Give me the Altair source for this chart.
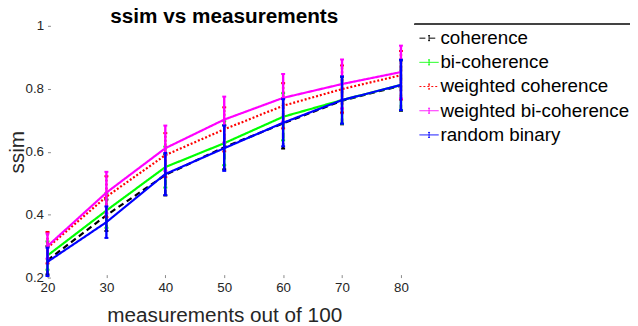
import altair as alt
import pandas as pd

measurements = [20, 30, 40, 50, 60, 70, 80]
series_names = ["coherence", "bi-coherence", "weighted coherence",
                "weighted bi-coherence", "random binary"]
series_colors = ["#000000", "#00ff00", "#ff0000", "#ff00ff", "#0000ff"]
series_dash = [[6, 4], [1, 0], [2, 2], [1, 0], [1, 0]]

coherence = [0.255, 0.398, 0.526, 0.614, 0.690, 0.762, 0.810]
bi_coherence = [0.270, 0.413, 0.551, 0.627, 0.711, 0.764, 0.812]
weighted_coherence = [0.295, 0.457, 0.589, 0.671, 0.746, 0.799, 0.843]
weighted_bi_coherence = [0.300, 0.470, 0.611, 0.702, 0.771, 0.815, 0.853]
random_binary = [0.250, 0.376, 0.529, 0.611, 0.692, 0.764, 0.812]

err_coherence = [0.045, 0.050, 0.065, 0.070, 0.080, 0.075, 0.080]
err_bi_coherence = [0.045, 0.055, 0.065, 0.070, 0.075, 0.075, 0.080]
err_weighted_coherence = [0.050, 0.065, 0.070, 0.070, 0.072, 0.075, 0.077]
err_weighted_bi_coherence = [0.040, 0.066, 0.072, 0.073, 0.076, 0.078, 0.084]
err_random_binary = [0.045, 0.050, 0.067, 0.072, 0.075, 0.075, 0.080]

means = [coherence, bi_coherence, weighted_coherence, weighted_bi_coherence, random_binary]
errs = [err_coherence, err_bi_coherence, err_weighted_coherence,
        err_weighted_bi_coherence, err_random_binary]

rows = []
for name, vals, es in zip(series_names, means, errs):
    for m, v, e in zip(measurements, vals, es):
        rows.append({"series": name, "m": m, "ssim": v, "lo": v - e, "hi": v + e})
df = pd.DataFrame(rows)

FONT = "Liberation Sans"
xscale = alt.Scale(domain=[20, 80], nice=False)
yscale = alt.Scale(domain=[0.2, 1.0], nice=False, zero=False)

x_enc = alt.X("m:Q", scale=xscale, axis=alt.Axis(
    values=measurements, title="measurements out of 100", domain=False, grid=False,
    tickSize=3, offset=-3, tickColor="#555555", tickWidth=0.7, labelFlush=False,
    labelFont=FONT, labelFontSize=13.5, labelColor="#262626", labelPadding=3,
    titleFont=FONT, titleFontSize=21, titleFontWeight="normal", titleColor="#262626",
    titleY=47.5, titleBaseline="alphabetic"))
y_enc = alt.Y("ssim:Q", scale=yscale, axis=alt.Axis(
    values=[0.2, 0.4, 0.6, 0.8, 1.0], format=".1~f", title="ssim", domain=False, grid=False,
    tickSize=3, offset=-3, tickColor="#555555", tickWidth=0.7, labelFlush=False,
    labelFont=FONT, labelFontSize=13.5, labelColor="#262626", labelPadding=4,
    titleFont=FONT, titleFontSize=21, titleFontWeight="normal", titleColor="#262626",
    titleX=-27, titleY=127.5, titleBaseline="alphabetic", titleAngle=270))

legend = alt.Legend(
    title=None, orient="none", legendX=376, legendY=2, padding=0,
    symbolType="M-1,0H1M0,-0.26V0.26M-0.1,-0.26H0.1M-0.1,0.26H0.1",
    symbolSize=380, symbolStrokeWidth=1, symbolFillColor="transparent",
    labelFont=FONT, labelFontSize=19, labelColor="#000000", labelOffset=1,
    rowPadding=3.5, labelLimit=300)

color_enc = alt.Color("series:N", scale=alt.Scale(domain=series_names, range=series_colors),
                      legend=legend)
dash_enc = alt.StrokeDash("series:N", scale=alt.Scale(domain=series_names, range=series_dash),
                          legend=legend)

layers = []
for name in series_names:
    base = alt.Chart(df).transform_filter(alt.datum.series == name)
    bars = base.mark_rule(strokeWidth=2.4).encode(
        x=x_enc, y=alt.Y("lo:Q", scale=yscale), y2="hi:Q",
        color=color_enc, strokeDash=dash_enc)
    cap_lo = base.mark_rule(strokeWidth=2, xOffset=-2, x2Offset=2).encode(
        x=x_enc, x2="m:Q", y=alt.Y("lo:Q", scale=yscale), color=color_enc)
    cap_hi = base.mark_rule(strokeWidth=2, xOffset=-2, x2Offset=2).encode(
        x=x_enc, x2="m:Q", y=alt.Y("hi:Q", scale=yscale), color=color_enc)
    line = base.mark_line(strokeWidth=2.2).encode(
        x=x_enc, y=y_enc, color=color_enc, strokeDash=dash_enc)
    layers += [bars, cap_lo, cap_hi, line]

legend_top = alt.Chart(df).mark_rule(color="#444444", strokeWidth=0.8).encode(
    x=alt.value(372), x2=alt.value(590), y=alt.value(-1.5))
layers.append(legend_top)

chart = alt.layer(*layers).properties(
    width=358, height=255,
    title=alt.TitleParams("ssim vs measurements", font=FONT, fontSize=21, fontWeight="bold",
                          color="#000000", anchor="middle", frame="group",
                          baseline="alphabetic", offset=0, dy=25),
    autosize=alt.AutoSizeParams(type="none"),
    padding={"left": 40, "top": 16, "right": 232, "bottom": 47},
    background="white",
).configure_view(stroke=None)

chart.save("out.html", embed_options={"renderer": "svg", "actions": False})
